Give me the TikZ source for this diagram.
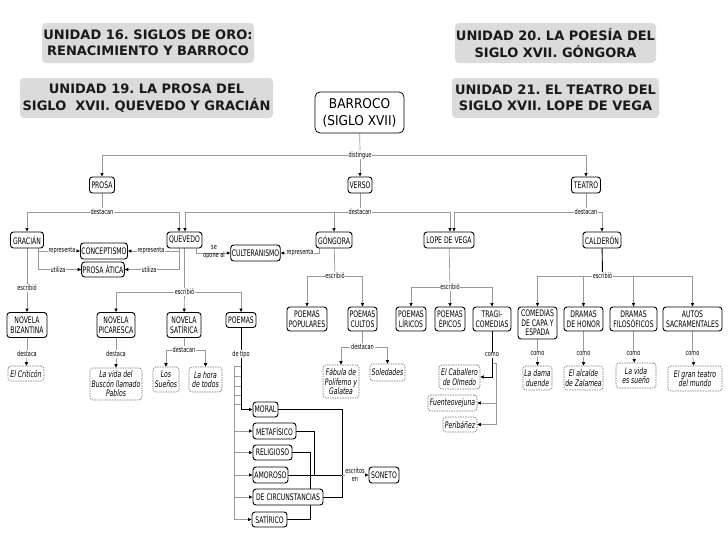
\documentclass[tikz,border=0pt]{standalone}
\usepackage{fontspec}
\setmainfont{DejaVu Sans}
\newfontfamily\nf[FakeStretch=0.68]{DejaVu Sans}
\newfontfamily\barrocofont[FakeStretch=0.9]{DejaVu Sans}
\newfontfamily\tfont{DejaVu Sans}
\usetikzlibrary{arrows.meta,backgrounds}
\frenchspacing
\tikzset{
 box/.style={draw=black, line width=0.9pt, rounded corners=3pt, fill=white, align=center,
   font=\nf\fontsize{9}{9.5}\selectfont, inner xsep=1pt, inner ysep=1pt, minimum height=16pt},
 ex/.style={draw=black!55, dash pattern=on 1.5pt off 1pt, line width=0.6pt, rounded corners=3pt,
   fill=white, align=center, font=\nf\itshape\fontsize{9}{9.5}\selectfont, inner xsep=1pt,
   inner ysep=1pt, minimum height=16pt},
 lbl/.style={fill=white, inner sep=0.6pt, align=center, font=\nf\fontsize{7.3}{8}\selectfont},
 ttl/.style={fill=black!14, rounded corners=4pt, align=center, text=black!90,
   font=\tfont\bfseries\fontsize{13}{16.5}\selectfont, minimum height=40pt, inner sep=1pt},
 ln/.style={draw=black!40, line width=0.7pt},
 lk/.style={draw=black, line width=0.9pt},
 arr/.style={-{Triangle[length=3.5pt,width=3.2pt,color=black]}},
}
\begin{document}
\begin{tikzpicture}[x=1pt,y=-1pt]
\useasboundingbox (0,0) rectangle (728,546);
% titles
\node[ttl, minimum width=212pt] (t16) at (148,43) {UNIDAD 16. SIGLOS DE ORO:\\RENACIMIENTO Y BARROCO};
\node[ttl, minimum width=253pt] (t19) at (146.5,98) {UNIDAD 19. LA PROSA DEL\\SIGLO\ \ XVII. QUEVEDO Y GRACIÁN};
\node[ttl, minimum width=201pt] (t20) at (555.5,43) {UNIDAD 20. LA POESÍA DEL\\SIGLO XVII. GÓNGORA};
\node[ttl, minimum width=207pt] (t21) at (555.5,98) {UNIDAD 21. EL TEATRO DEL\\SIGLO XVII. LOPE DE VEGA};
\node[box, font=\barrocofont\fontsize{13.5}{17}\selectfont, minimum width=89pt, minimum height=41pt,
  rounded corners=5pt, line width=0.8pt] (barroco) at (359.5,112.5) {BARROCO\\(SIGLO XVII)};
% level 1
\node[box, minimum width=25pt] (prosa) at (102,185) {PROSA};
\node[box, minimum width=24pt] (verso) at (360,185) {VERSO};
\node[box, minimum width=29pt] (teatro) at (586,185) {TEATRO};
% level 2
\node[box, minimum width=33pt] (gracian) at (27,240) {GRACIÁN};
\node[box, minimum width=35pt] (quevedo) at (184.5,240) {QUEVEDO};
\node[box, minimum width=44pt] (concept) at (104,251) {CONCEPTISMO};
\node[box, minimum width=40pt, minimum height=15pt] (atica) at (103,269.5) {PROSA ÁTICA};
\node[box, minimum width=47pt] (cult) at (255.5,253) {CULTERANISMO};
\node[box, minimum width=36pt] (gongora) at (334,240) {GÓNGORA};
\node[box, minimum width=50pt] (lope) at (449,240) {LOPE DE VEGA};
\node[box, minimum width=38pt] (calderon) at (602,240) {CALDERÓN};
% level 3
\node[box, minimum width=40pt, minimum height=25pt] (bizantina) at (27,325) {NOVELA\\BIZANTINA};
\node[box, minimum width=38pt, minimum height=25pt] (picaresca) at (116,325) {NOVELA\\PICARESCA};
\node[box, minimum width=34pt, minimum height=25pt] (satirica) at (184,325) {NOVELA\\SATÍRICA};
\node[box, minimum width=30pt, minimum height=15pt] (poemas) at (241,320) {POEMAS};
\node[box, minimum width=40pt, minimum height=24pt] (populares) at (307,319) {POEMAS\\POPULARES};
\node[box, minimum width=29pt, minimum height=24pt] (cultos) at (362.5,319) {POEMAS\\CULTOS};
\node[box, minimum width=30pt, minimum height=24pt] (liricos) at (411,319) {POEMAS\\LÍRICOS};
\node[box, minimum width=30pt, minimum height=24pt] (epicos) at (450,319) {POEMAS\\ÉPICOS};
\node[box, minimum width=38pt, minimum height=24pt] (tragi) at (492,319) {TRAGI-\\COMEDIAS};
\node[box, minimum width=39pt, minimum height=32pt] (capa) at (537.5,323) {COMEDIAS\\DE CAPA Y\\ESPADA};
\node[box, minimum width=39pt, minimum height=24pt] (honor) at (583.5,319) {DRAMAS\\DE HONOR};
\node[box, minimum width=47pt, minimum height=24pt] (filos) at (633.5,319) {DRAMAS\\FILOSÓFICOS};
\node[box, minimum width=59pt, minimum height=24pt] (autos) at (692.5,319) {AUTOS\\SACRAMENTALES};
% poem types
\node[box, minimum width=25pt, minimum height=15pt] (moral) at (265.5,409.5) {MORAL};
\node[box, minimum width=43pt] (metaf) at (274.5,431) {METAFÍSICO};
\node[box, minimum width=39pt, minimum height=15pt] (relig) at (272.5,452.5) {RELIGIOSO};
\node[box, minimum width=35pt] (amoroso) at (270.5,475) {AMOROSO};
\node[box, minimum width=70pt] (circ) at (288,497) {DE CIRCUNSTANCIAS};
\node[box, minimum width=35pt, minimum height=15pt] (satirico) at (269.5,519.5) {SATÍRICO};
\node[box, minimum width=30pt] (soneto) at (384,475) {SONETO};
% works
\node[ex, minimum width=36pt, minimum height=15pt] (criticon) at (26,373.5) {El Criticón};
\node[ex, minimum width=52pt, minimum height=32pt] (buscon) at (116,384) {La vida del\\Buscón llamado\\Pablos};
\node[ex, minimum width=26pt, minimum height=25pt] (suenos) at (166,379.5) {Los\\Sueños};
\node[ex, minimum width=33pt, minimum height=25pt] (hora) at (205.5,379.5) {La hora\\de todos};
\node[ex, minimum width=36pt, minimum height=33pt] (fabula) at (341,381.5) {Fábula de\\Polifemo y\\Galatea};
\node[ex, minimum width=35pt, minimum height=17pt] (soledades) at (387.5,372.5) {Soledades};
\node[ex, minimum width=41pt, minimum height=24pt] (caballero) at (459.5,377) {El Caballero\\de Olmedo};
\node[ex, minimum width=49pt] (fuente) at (452.5,403) {Fuenteovejuna};
\node[ex, minimum width=34pt, minimum height=15pt] (peribanez) at (460,424.5) {Peribáñez};
\node[ex, minimum width=29pt, minimum height=24pt] (dama) at (537.5,378) {La dama\\duende};
\node[ex, minimum width=39pt, minimum height=24pt] (alcalde) at (583.5,378) {El alcalde\\de Zalamea};
\node[ex, minimum width=40pt, minimum height=25pt] (vida) at (636,375.5) {La vida\\es sueño};
\node[ex, minimum width=54pt, minimum height=25pt] (gran) at (695,378.5) {El gran teatro\\del mundo};
% linking phrases
\node[lbl] (distingue) at (360,155) {distingue};
\node[lbl] (dst1) at (102,212) {destacan};
\node[lbl] (dst2) at (360,212) {destacan};
\node[lbl] (dst3) at (586,212) {destacan};
\node[lbl] (rep1) at (62,251) {representa};
\node[lbl] (uti1) at (58,269.5) {utiliza};
\node[lbl] (rep2) at (151,251) {representa};
\node[lbl] (uti2) at (149,269.5) {utiliza};
\node[lbl, fill=none] (opone) at (214,252) {se\\opone al};
\node[lbl] (rep3) at (300,253) {representa};
\node[lbl] (esgr) at (27,288) {escribió};
\node[lbl] (esq) at (184.5,292) {escribió};
\node[lbl] (esg) at (335,276) {escribió};
\node[lbl] (esl) at (450,287) {escribió};
\node[lbl] (escal) at (602.5,276) {escribió};
\node[lbl] (dbiz) at (27,354) {destaca};
\node[lbl] (dpic) at (116,354) {destaca};
\node[lbl] (dsat) at (184,350) {destacan};
\node[lbl] (detipo) at (241,354) {de tipo};
\node[lbl] (dsc) at (362.5,347) {destacan};
\node[lbl] (ctra) at (492,355) {como};
\node[lbl] (ccapa) at (537.5,354) {como};
\node[lbl] (chonor) at (583.5,354) {como};
\node[lbl] (cfilos) at (633.5,354) {como};
\node[lbl] (cautos) at (692.5,354) {como};
\node[lbl] (escritos) at (355,475) {escritos\\en};
% helper coordinates
\coordinate (r1) at (234,366);
\coordinate (r2) at (234,376);
\coordinate (r3) at (234,386);
\coordinate (r4) at (234,395);
\coordinate (r5) at (234,404);
\coordinate (j1) at (342,475);
\coordinate (j2) at (314,475);
\coordinate (j3) at (310,475);
\coordinate (ct1) at (496,363);
\begin{scope}[on background layer]
\draw[ln] (barroco) -- (distingue);
\draw[ln,arr] (distingue) -| (prosa);
\draw[ln,arr] (distingue) -- (verso);
\draw[ln,arr] (distingue) -| (teatro);
\draw[ln] (prosa) -- (dst1);
\draw[ln,arr] (dst1) -| (gracian);
\draw[ln,arr] (dst1) -| ([xshift=-5.5pt]quevedo.north);
\draw[ln] (verso) -- (dst2);
\draw[ln,arr] (dst2) -| ([xshift=0.5pt]quevedo.north);
\draw[ln,arr] (dst2) -| (gongora);
\draw[ln,arr] (dst2) -| ([xshift=1pt]lope.north);
\draw[ln] (teatro) -- (dst3);
\draw[ln,arr] (dst3) -| ([xshift=5pt]lope.north);
\draw[ln,arr] (dst3) -| (calderon);
% Gracian
\draw[ln] ([xshift=11pt]gracian.south) |- (rep1);
\draw[ln,arr] (rep1) -- (concept);
\draw[ln] ([xshift=11pt]gracian.south) |- (uti1);
\draw[ln,arr] (uti1) -- (atica);
\draw[ln] (gracian) -- (esgr);
\draw[ln,arr] (esgr) -- (bizantina);
\draw[ln] (bizantina) -- (dbiz);
\draw[ln,arr] (dbiz) -- (criticon);
% Quevedo
\draw[ln] ([xshift=-5.5pt]quevedo.south) |- (rep2);
\draw[ln,arr] (rep2) -- (concept);
\draw[ln] ([xshift=-5.5pt]quevedo.south) |- (uti2);
\draw[ln,arr] (uti2) -- (atica);
\draw[ln,arr] ([xshift=12pt]quevedo.south) |- (cult);
\draw[ln] (quevedo) -- (esq);
\draw[ln,arr] (esq) -| (picaresca);
\draw[ln,arr] (esq) -- (satirica);
\draw[ln,arr] (esq) -| (poemas);
\draw[ln] (picaresca) -- (dpic);
\draw[ln,arr] (dpic) -- (buscon);
\draw[ln] (satirica) -- (dsat);
\draw[ln,arr] (dsat) -| (suenos);
\draw[ln,arr] (dsat) -| (hora);
% poem types
\draw[ln,arr] (detipo) |- (r1) |- (metaf);
\draw[ln,arr] (detipo) |- (r2) |- (relig);
\draw[ln,arr] (detipo) |- (r3) |- (amoroso);
\draw[ln,arr] (detipo) |- (r4) |- (circ);
\draw[ln,arr] (detipo) |- (r5) |- (satirico);
\draw[lk] (poemas) -- (detipo);
\draw[lk,arr] (detipo) |- (moral);
\draw[lk] (moral) -| (j1);
\draw[lk] (circ) -| (j1);
\draw[lk] (metaf) -| (j2);
\draw[lk] (relig) -| (j3);
\draw[lk] (satirico) -| (j3);
\draw[lk] (amoroso) -- (j1);
\draw[ln] (j1) -- (escritos);
\draw[ln,arr] (escritos) -- (soneto);
% Gongora
\draw[ln] ([xshift=-15pt]gongora.south) |- (rep3);
\draw[ln,arr] (rep3) -- (cult);
\draw[ln] (gongora) -- (esg);
\draw[ln,arr] (esg) -| (populares);
\draw[ln,arr] (esg) -| (cultos);
\draw[ln] (cultos) -- (dsc);
\draw[ln,arr] (dsc) -| (fabula);
\draw[ln,arr] (dsc) -| (soledades);
% Lope
\draw[ln] (lope) -- (esl);
\draw[ln,arr] (esl) -| (liricos);
\draw[ln,arr] (esl) -- (epicos);
\draw[ln,arr] (esl) -| (tragi);
\draw[ln] (ctra) |- (ct1);
\draw[ln,arr] (ct1) |- (fuente);
\draw[ln,arr] (ct1) |- (peribanez);
\draw[lk] (tragi) -- (ctra);
\draw[lk,arr] (ctra) |- (caballero);
% Calderon
\draw[lk] (calderon) -- (escal);
\draw[ln,arr] (escal) -| (capa);
\draw[ln,arr] (escal) -| (honor);
\draw[ln,arr] (escal) -| (filos);
\draw[ln,arr] (escal) -| (autos);
\draw[ln] (capa) -- (ccapa);
\draw[ln,arr] (ccapa) -- (dama);
\draw[ln] (honor) -- (chonor);
\draw[ln,arr] (chonor) -- (alcalde);
\draw[ln] (filos) -- (cfilos);
\draw[ln,arr] (cfilos) -- (vida);
\draw[ln] (autos) -- (cautos);
\draw[ln,arr] (cautos) -- (gran);
\end{scope}
\end{tikzpicture}
\end{document}
